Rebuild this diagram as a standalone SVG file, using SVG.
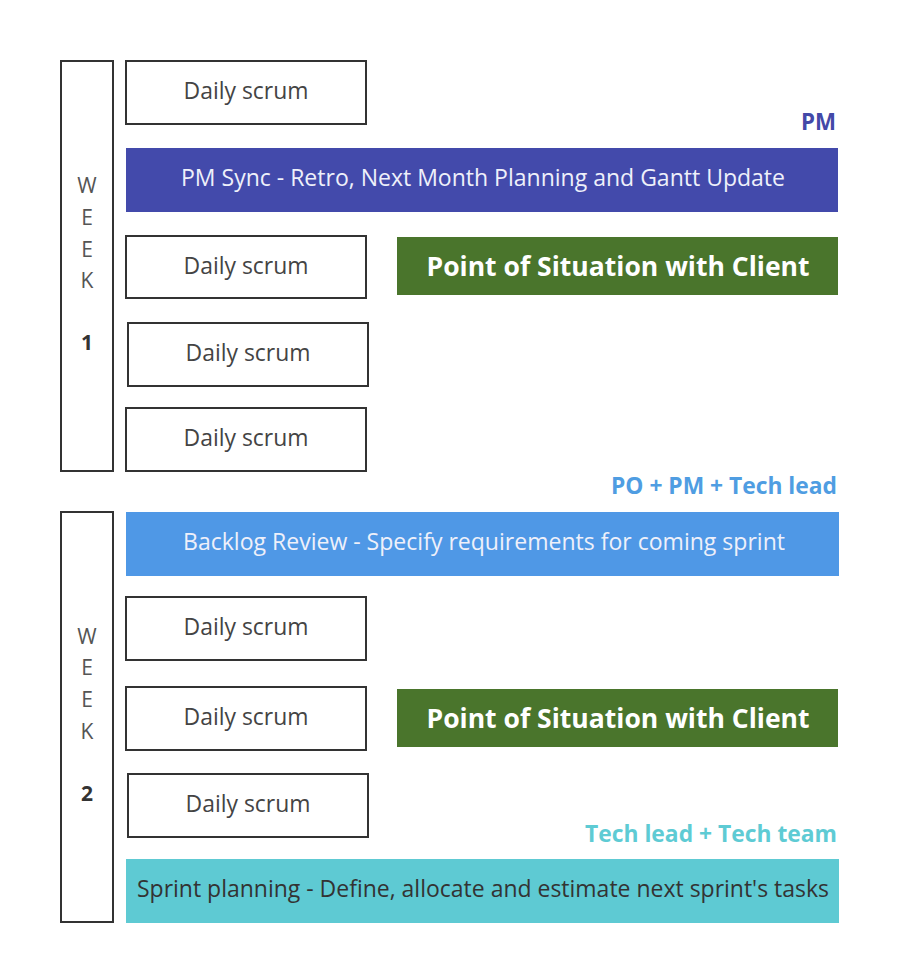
<svg xmlns="http://www.w3.org/2000/svg" width="898" height="974" viewBox="0 0 898 974">
<style>
.wk{fill:#fff;stroke:#333;stroke-width:2}
.ds{fill:#fff;stroke:#333;stroke-width:2}
.dst{font-family:"Open Sans",sans-serif;font-size:23px;fill:#444;text-anchor:middle}
.wl{font-family:"Open Sans",sans-serif;font-size:21px;fill:#555;text-anchor:middle}
.wn{font-family:"Open Sans",sans-serif;font-size:21px;font-weight:bold;fill:#333;text-anchor:middle}
.bt{font-family:"Open Sans",sans-serif;font-size:23px;fill:#eef0fa;text-anchor:middle}
.gt{font-family:"Open Sans",sans-serif;font-size:26px;font-weight:bold;fill:#fff;text-anchor:middle}
.lb{font-family:"Open Sans",sans-serif;font-size:22.5px;font-weight:bold;text-anchor:end}
</style>
<rect width="898" height="974" fill="#fff"/>
<g id="week1">
<rect class="wk" x="61" y="61" width="52" height="410"/>
<text class="wl" x="87" y="193">W</text>
<text class="wl" x="87" y="225">E</text>
<text class="wl" x="87" y="257">E</text>
<text class="wl" x="87" y="288">K</text>
<text class="wn" x="87" y="350">1</text>
</g>
<g id="week2">
<rect class="wk" x="61" y="512" width="52" height="410"/>
<text class="wl" x="87" y="644">W</text>
<text class="wl" x="87" y="675">E</text>
<text class="wl" x="87" y="707">E</text>
<text class="wl" x="87" y="739">K</text>
<text class="wn" x="87" y="801">2</text>
</g>
<g id="ds1"><rect class="ds" x="126" y="61" width="240" height="63"/><text class="dst" x="246" y="99" textLength="125" lengthAdjust="spacingAndGlyphs">Daily scrum</text></g>
<g id="pm-label"><text class="lb" x="836" y="130" fill="#4349a8" textLength="35" lengthAdjust="spacingAndGlyphs">PM</text></g>
<g id="pm-sync"><rect x="126" y="148" width="712" height="64" fill="#434aab"/><text class="bt" x="483" y="186" textLength="604" lengthAdjust="spacingAndGlyphs">PM Sync - Retro, Next Month Planning and Gantt Update</text></g>
<g id="ds2"><rect class="ds" x="126" y="236" width="240" height="62"/><text class="dst" x="246" y="274" textLength="125" lengthAdjust="spacingAndGlyphs">Daily scrum</text></g>
<g id="client1"><rect x="397" y="237" width="441" height="58" fill="#4a752c"/><text class="gt" x="618" y="276" textLength="383" lengthAdjust="spacingAndGlyphs">Point of Situation with Client</text></g>
<g id="ds3"><rect class="ds" x="128" y="323" width="240" height="63"/><text class="dst" x="248" y="361" textLength="125" lengthAdjust="spacingAndGlyphs">Daily scrum</text></g>
<g id="ds4"><rect class="ds" x="126" y="408" width="240" height="63"/><text class="dst" x="246" y="446" textLength="125" lengthAdjust="spacingAndGlyphs">Daily scrum</text></g>
<g id="po-label"><text class="lb" x="837" y="494" fill="#4f9de2" textLength="226" lengthAdjust="spacingAndGlyphs">PO + PM + Tech lead</text></g>
<g id="backlog"><rect x="126" y="512" width="713" height="64" fill="#4f98e6"/><text class="bt" x="484" y="550" textLength="602" lengthAdjust="spacingAndGlyphs">Backlog Review - Specify requirements for coming sprint</text></g>
<g id="ds5"><rect class="ds" x="126" y="597" width="240" height="63"/><text class="dst" x="246" y="635" textLength="125" lengthAdjust="spacingAndGlyphs">Daily scrum</text></g>
<g id="ds6"><rect class="ds" x="126" y="687" width="240" height="63"/><text class="dst" x="246" y="725" textLength="125" lengthAdjust="spacingAndGlyphs">Daily scrum</text></g>
<g id="client2"><rect x="397" y="689" width="441" height="58" fill="#4a752c"/><text class="gt" x="618" y="728" textLength="383" lengthAdjust="spacingAndGlyphs">Point of Situation with Client</text></g>
<g id="ds7"><rect class="ds" x="128" y="774" width="240" height="63"/><text class="dst" x="248" y="812" textLength="125" lengthAdjust="spacingAndGlyphs">Daily scrum</text></g>
<g id="tech-label"><text class="lb" x="837" y="842" fill="#5ecbd4" textLength="252" lengthAdjust="spacingAndGlyphs">Tech lead + Tech team</text></g>
<g id="sprint"><rect x="126" y="859" width="713" height="64" fill="#5ecad3"/><text class="bt" x="483" y="897" style="fill:#333" textLength="692" lengthAdjust="spacingAndGlyphs">Sprint planning - Define, allocate and estimate next sprint's tasks</text></g>
<g id="connectors"></g>
</svg>
